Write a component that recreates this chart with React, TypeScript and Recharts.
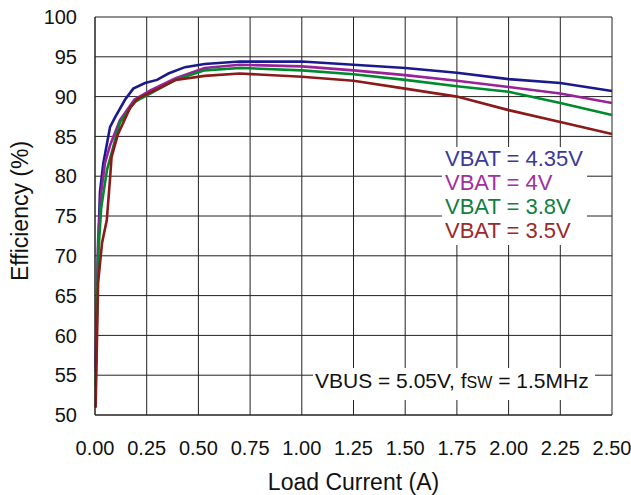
import { LineChart, Line, XAxis, YAxis, CartesianGrid } from "recharts"

// load current (A) and efficiency (%) per battery voltage
const x435 = [0.003, 0.016, 0.024, 0.04, 0.073, 0.097, 0.145, 0.185, 0.242, 0.3, 0.355, 0.435, 0.53, 0.7, 1.0, 1.25, 1.5, 1.75, 2.0, 2.25, 2.5]
const eff435 = [56, 71.6, 78, 81.6, 86.2, 87.4, 89.6, 91.0, 91.7, 92.1, 92.9, 93.7, 94.1, 94.4, 94.4, 94.0, 93.6, 93.0, 92.2, 91.7, 90.7]

const x40 = [0.003, 0.015, 0.03, 0.048, 0.073, 0.12, 0.19, 0.27, 0.39, 0.53, 0.7, 1.0, 1.25, 1.5, 1.75, 2.0, 2.25, 2.5]
const eff40 = [55.4, 72, 78, 81.6, 83.9, 87.0, 89.6, 90.8, 92.3, 93.6, 94.0, 93.8, 93.3, 92.7, 92.0, 91.2, 90.4, 89.2]

const x38 = [0.003, 0.015, 0.03, 0.058, 0.12, 0.19, 0.39, 0.53, 0.7, 1.0, 1.25, 1.5, 1.75, 2.0, 2.25, 2.5]
const eff38 = [53.5, 70, 76, 80.8, 86.7, 89.3, 92.1, 93.3, 93.6, 93.3, 92.8, 92.1, 91.3, 90.6, 89.2, 87.7]

const x35 = [0.003, 0.015, 0.034, 0.057, 0.073, 0.08, 0.11, 0.17, 0.21, 0.275, 0.39, 0.53, 0.7, 1.0, 1.25, 1.5, 1.75, 2.0, 2.25, 2.5]
const eff35 = [50.9, 66.6, 71.6, 74.5, 79.8, 82.4, 85.2, 88.6, 89.8, 90.6, 92.1, 92.6, 92.9, 92.5, 92.0, 91.0, 90.0, 88.3, 86.8, 85.3]

const xTicks = [0, 0.25, 0.5, 0.75, 1.0, 1.25, 1.5, 1.75, 2.0, 2.25, 2.5]
const yTicks = [50, 55, 60, 65, 70, 75, 80, 85, 90, 95, 100]

const series = [
  { name: "VBAT = 4.35V", xs: x435, ys: eff435, color: "#1a1a8c", text: "#3a3a9a" },
  { name: "VBAT = 4V", xs: x40, ys: eff40, color: "#992299", text: "#a030a0" },
  { name: "VBAT = 3.8V", xs: x38, ys: eff38, color: "#008a2e", text: "#108040" },
  { name: "VBAT = 3.5V", xs: x35, ys: eff35, color: "#8b1a1a", text: "#9a2a2a" },
]

const font = "'Liberation Sans', Arial, sans-serif"

export default function App() {
  return (
    <div style={{ position: "absolute", left: 0, top: 0, width: 631, height: 495, background: "#fff", fontFamily: font }}>
      <LineChart width={631} height={495} margin={{ top: 17, right: 19, left: 0, bottom: 0 }}>
        <CartesianGrid stroke="#222" strokeWidth={1} />
        <XAxis
          type="number"
          dataKey="x"
          domain={[0, 2.5]}
          ticks={xTicks}
          tickFormatter={(v: number) => v.toFixed(2)}
          height={80}
          axisLine={{ stroke: "#222" }}
          tickLine={false}
          tickMargin={20}
          tick={{ fill: "#111", fontSize: 20, fontFamily: font }}
          label={{ value: "Load Current (A)", position: "insideBottom", offset: 5, fill: "#111", fontSize: 23, fontFamily: font }}
          allowDuplicatedCategory={false}
        />
        <YAxis
          type="number"
          domain={[50, 100]}
          ticks={yTicks}
          width={95}
          axisLine={{ stroke: "#222" }}
          tickLine={false}
          tickMargin={12}
          tick={{ fill: "#111", fontSize: 20, fontFamily: font }}
          label={{ value: "Efficiency (%)", angle: -90, position: "insideLeft", offset: 20, dy: -5, fill: "#111", fontSize: 23, fontFamily: font, style: { textAnchor: "middle" } }}
        />
        {series.map((s) => (
          <Line
            key={s.name}
            data={s.xs.map((x, i) => ({ x, y: s.ys[i] }))}
            dataKey="y"
            type="linear"
            stroke={s.color}
            strokeWidth={2.6}
            dot={false}
            isAnimationActive={false}
          />
        ))}
      </LineChart>

      {/* legend */}
      <div style={{ position: "absolute", left: 442, top: 147, width: 145, height: 98, background: "#fff", paddingLeft: 3, boxSizing: "border-box" }}>
        {series.map((s) => (
          <div key={s.name} style={{ color: s.text, fontSize: 22, lineHeight: "24px", whiteSpace: "nowrap" }}>
            {s.name}
          </div>
        ))}
      </div>

      {/* conditions */}
      <div style={{ position: "absolute", left: 313, top: 368, width: 282, height: 32, background: "#fff", paddingLeft: 2, boxSizing: "border-box", fontSize: 21, lineHeight: "25px", color: "#111", whiteSpace: "nowrap" }}>
        VBUS = 5.05V, f<span style={{ fontSize: 16 }}>SW</span> = 1.5MHz
      </div>
    </div>
  )
}
